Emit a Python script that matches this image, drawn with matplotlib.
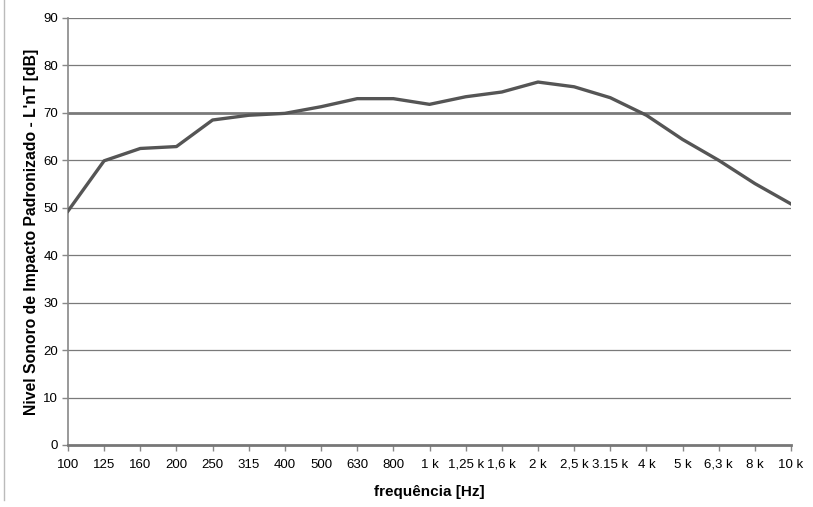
import numpy as np
import matplotlib.pyplot as plt
from matplotlib.lines import Line2D

plt.rcParams['font.family'] = ['Liberation Sans', 'DejaVu Sans']

# data
freq_labels = ["100", "125", "160", "200", "250", "315", "400", "500", "630", "800",
               "1 k", "1,25 k", "1,6 k", "2 k", "2,5 k", "3.15 k", "4 k", "5 k",
               "6,3 k", "8 k", "10 k"]
lnt = [49.3, 59.9, 62.5, 62.9, 68.5, 69.5, 69.9, 71.3, 73.0, 73.0,
       71.8, 73.4, 74.4, 76.5, 75.5, 73.2, 69.5, 64.4, 60.0, 55.1, 50.8]
y_ticks = [0, 10, 20, 30, 40, 50, 60, 70, 80, 90]

fig = plt.figure(figsize=(8.13, 5.07), dpi=100)
ax = fig.add_axes([0.0836, 0.1223, 0.8894, 0.8422])

x = np.arange(len(freq_labels))
ax.plot(x, lnt, color='#555555', lw=2.4, solid_joinstyle='round', zorder=3)

ax.set_xlim(0, len(freq_labels) - 1)
ax.set_ylim(0, 90)
ax.set_yticks(y_ticks)
ax.set_xticks(x)
ax.set_xticklabels(freq_labels)

for v in y_ticks[1:]:
    ax.axhline(v, color='#7a7a7a', lw=2.0 if v == 70 else 0.9, zorder=1)

for s in ['top', 'right']:
    ax.spines[s].set_visible(False)
ax.spines['left'].set_color('#888888')
ax.spines['left'].set_linewidth(1.2)
ax.spines['bottom'].set_color('#777777')
ax.spines['bottom'].set_linewidth(2.0)

ax.tick_params(axis='both', colors='#888888', labelcolor='black', labelsize=9.5, length=4, width=1)
ax.tick_params(axis='x', pad=6)
ax.tick_params(axis='y', pad=3)

ax.set_xlabel("frequência [Hz]", fontsize=11, fontweight='bold', labelpad=10)
ax.set_ylabel("Nivel Sonoro de Impacto Padronizado - L'nT [dB]", fontsize=11.3, fontweight='bold', labelpad=3)

fig.add_artist(Line2D([4 / 813, 4 / 813], [1, 1 - 500 / 507], color='#bbbbbb', lw=1))

fig.savefig("out.png", dpi=100)
